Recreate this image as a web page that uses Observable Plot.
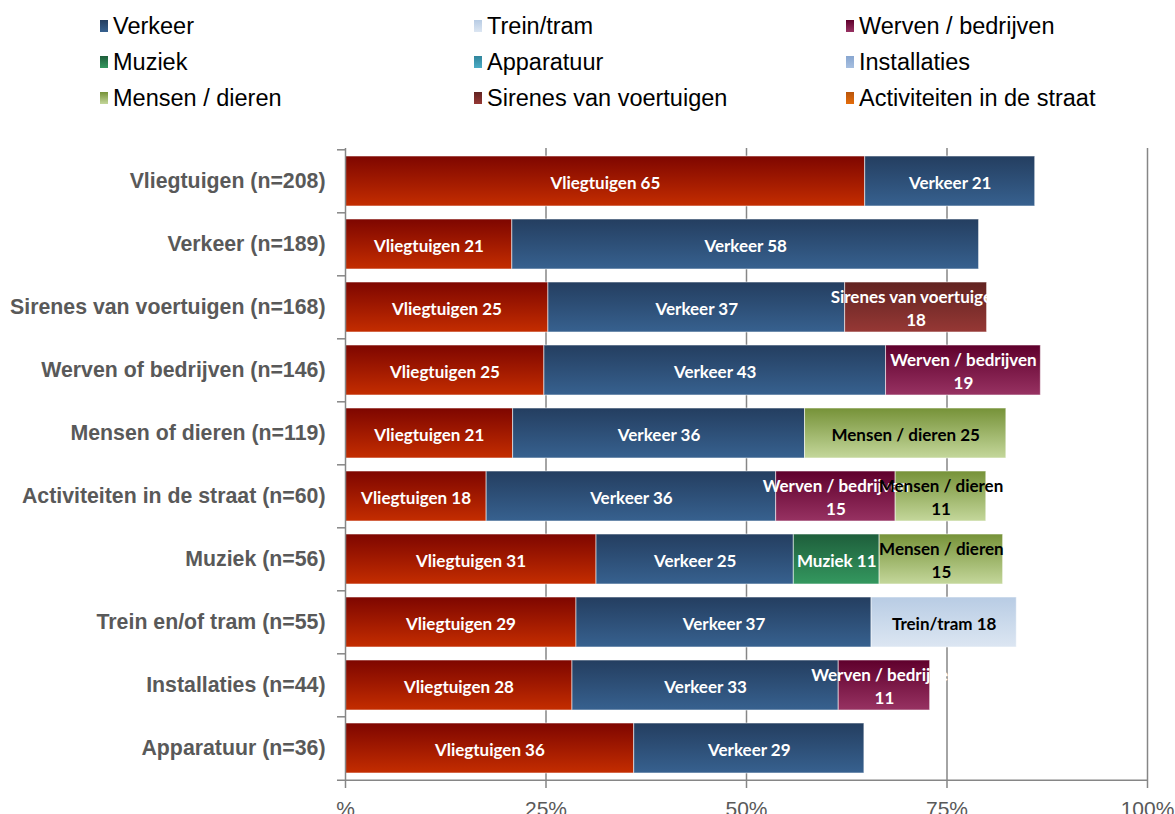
<!DOCTYPE html>
<html><head><meta charset="utf-8">
<script src="https://cdn.jsdelivr.net/npm/d3@7"></script>
<script src="https://cdn.jsdelivr.net/npm/@observablehq/plot@0.6"></script>
<style>
body{margin:0;background:#fff;}
#wrap{position:relative;width:1175px;height:814px;overflow:hidden;}
#chart{position:absolute;left:0;top:0;}
#legend{position:absolute;left:0;top:0;width:1175px;height:120px;font-family:"Liberation Sans",Arial,sans-serif;font-size:23.5px;color:#000;}
.li{position:absolute;display:flex;align-items:center;height:30px;white-space:nowrap;}
.sw{width:8px;height:12px;margin-right:5px;}
</style></head><body><div id="wrap"><div id="chart"></div><div id="legend"></div></div>
<script>
// ---- data ----
const categories = [
  "Vliegtuigen (n=208)", "Verkeer (n=189)", "Sirenes van voertuigen (n=168)",
  "Werven of bedrijven (n=146)", "Mensen of dieren (n=119)", "Activiteiten in de straat (n=60)",
  "Muziek (n=56)", "Trein en/of tram (n=55)", "Installaties (n=44)", "Apparatuur (n=36)"
];
const seriesNames = ["Vliegtuigen", "Verkeer", "Trein/tram", "Werven / bedrijven", "Muziek",
  "Apparatuur", "Installaties", "Mensen / dieren", "Sirenes van voertuigen", "Activiteiten in de straat"];
const vliegtuigen  = [64.8, 20.8, 25.3, 24.8, 20.9, 17.6, 31.3, 28.8, 28.3, 36.0];
const verkeer      = [21.2, 58.2, 37.0, 42.6, 36.4, 36.1, 24.6, 36.8, 33.2, 28.7];
const treinTram    = [null, null, null, null, null, null, null, 18.1, null, null];
const werven       = [null, null, null, 19.3, null, 14.9, null, null, 11.4, null];
const muziek       = [null, null, null, null, null, null, 10.7, null, null, null];
const apparatuur   = [null, null, null, null, null, null, null, null, null, null];
const installaties = [null, null, null, null, null, null, null, null, null, null];
const mensen       = [null, null, null, null, 25.1, 11.3, 15.4, null, null, null];
const sirenes      = [null, null, 17.7, null, null, null, null, null, null, null];
const activiteiten = [null, null, null, null, null, null, null, null, null, null];
const legendItems = ["Verkeer", "Trein/tram", "Werven / bedrijven", "Muziek", "Apparatuur",
  "Installaties", "Mensen / dieren", "Sirenes van voertuigen", "Activiteiten in de straat"];
const xTicks = [0, 25, 50, 75, 100];
const xTickLabels = ["%", "25%", "50%", "75%", "100%"];

// ---- styles ----
const gradStops = {
  "Vliegtuigen": ["#7e0600", "#c42d00"],
  "Verkeer": ["#243e60", "#37618f"],
  "Trein/tram": ["#b8cce4", "#dce6f2"],
  "Werven / bedrijven": ["#5f002c", "#973262"],
  "Muziek": ["#1e5e3b", "#34985f"],
  "Apparatuur": ["#31859c", "#4bacc6"],
  "Installaties": ["#88a6d0", "#a6bfe0"],
  "Mensen / dieren": ["#769238", "#c4d79b"],
  "Sirenes van voertuigen": ["#612321", "#963835"],
  "Activiteiten in de straat": ["#b9550c", "#e46c0a"]
};
const darkText = new Set(["Trein/tram", "Mensen / dieren"]);

const seriesValues = [vliegtuigen, verkeer, treinTram, werven, muziek, apparatuur, installaties, mensen, sirenes, activiteiten];
const W = 1175, H = 814, mL = 345, mR = 28, mT = 148, mB = 32;
const pxPerUnit = (W - mL - mR) / 100;
const step = (H - mT - mB) / categories.length;

const data = [];
seriesNames.forEach((s, i) => seriesValues[i].forEach((v, j) => {
  if (v == null) return;
  const n = Math.round(v);
  const one = `${s} ${n}`;
  const label = one.length * 8.3 > v * pxPerUnit - 4 ? `${s}\n${n}` : one;
  data.push({series: s, cat: categories[j], value: v, label, tc: darkText.has(s) ? "#000000" : "#ffffff"});
}));

const gid = s => "g" + seriesNames.indexOf(s);

const chart = Plot.plot({
  width: W, height: H,
  marginLeft: mL, marginRight: mR, marginTop: mT, marginBottom: mB,
  style: {fontFamily: "'Liberation Sans', Arial, sans-serif", fontSize: "21px", color: "#595959", background: "transparent", overflow: "visible"},
  x: {domain: [0, 100]},
  y: {domain: categories, paddingInner: 0.2, paddingOuter: 0.1, axis: null},
  color: {domain: seriesNames, range: seriesNames.map(s => `url(#${gid(s)})`)},
  marks: [
    Plot.ruleX(xTicks.slice(1), {stroke: "#868686", strokeWidth: 1.5}),
    Plot.barX(data, Plot.stackX({x: "value", y: "cat", fill: "series", stroke: "#ffffff", strokeOpacity: 0.55, strokeWidth: 1})),
    Plot.ruleX([0], {stroke: "#868686", strokeWidth: 1.5}),
    Plot.ruleY(categories, {y: d => d, x1: -1, x2: 0, dy: -step / 2, stroke: "#868686", strokeWidth: 1.5}),
    Plot.ruleY([categories[categories.length - 1]], {y: d => d, x1: -1, x2: 100, dy: step / 2, stroke: "#868686", strokeWidth: 1.5}),
    Plot.axisX({ticks: xTicks, tickFormat: (d) => xTickLabels[xTicks.indexOf(d)], tickSize: 6, tickPadding: 13, stroke: "#868686", strokeWidth: 1.5, fill: "#595959", fontSize: 21, label: null}),
    Plot.text(categories, {y: d => d, text: d => d, frameAnchor: "left", textAnchor: "end", dx: -20, fontWeight: "bold", fontSize: 21.3, fill: "#595959"}),
    Plot.text(data, Plot.stackX({x: "value", y: "cat", text: "label", fill: "tc", fontFamily: "Lato, 'Open Sans', sans-serif", fontWeight: "bold", fontSize: 17, lineHeight: 1.33}))
  ]
});

// gradients
const svg = d3.select(chart.tagName.toLowerCase() === "svg" ? chart : chart.querySelector("svg"));
const defs = svg.insert("defs", ":first-child");
seriesNames.forEach(s => {
  const g = defs.append("linearGradient").attr("id", gid(s)).attr("x1", 0).attr("y1", 0).attr("x2", 0).attr("y2", 1);
  g.append("stop").attr("offset", "0%").attr("stop-color", gradStops[s][0]);
  g.append("stop").attr("offset", "100%").attr("stop-color", gradStops[s][1]);
});
document.getElementById("chart").appendChild(chart);

// legend
const leg = document.getElementById("legend");
const colX = [100, 474, 846], rowY = [26, 62, 98];
legendItems.forEach((s, k) => {
  const el = document.createElement("div");
  el.className = "li";
  el.style.left = colX[k % 3] + "px";
  el.style.top = (rowY[Math.floor(k / 3)] - 15) + "px";
  const sw = document.createElement("span");
  sw.className = "sw";
  sw.style.background = `linear-gradient(${gradStops[s][0]}, ${gradStops[s][1]})`;
  const tx = document.createElement("span");
  tx.textContent = s;
  el.appendChild(sw); el.appendChild(tx);
  leg.appendChild(el);
});
</script></body></html>
